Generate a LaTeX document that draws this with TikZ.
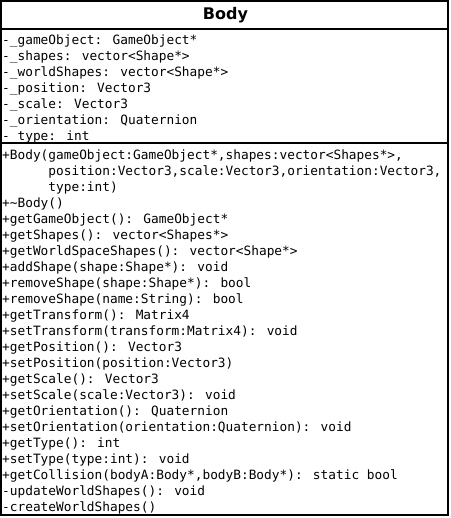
\documentclass[tikz,border=0pt]{standalone}
\usepackage{fontspec}
\usetikzlibrary{positioning,calc}
\newfontfamily\umlsans{DejaVu Sans}
\newfontfamily\umlmono{DejaVu Sans Mono}
\tikzstyle{classname}=[anchor=base,inner sep=0pt,font=\umlsans\bfseries\fontsize{16}{19}\selectfont]
\tikzstyle{members}=[anchor=base west,align=left,inner sep=0pt,font=\umlmono\fontsize{12.8}{16}\selectfont]
\tikzset{
	frame/.style={draw=black,line width=2pt},
	divider/.style={draw=black,line width=2pt}
}

\begin{document}
\begin{tikzpicture}[x=1pt,y=-1pt]
    \useasboundingbox (0,0) rectangle (450,518);
    \coordinate (nw) at (1,1);
    \coordinate (se) at (448,515);
    \draw[frame] (nw) rectangle (se);
    \draw[divider] (1,29) -- (448,29);
    \draw[divider] (1,143.5) -- (448,143.5);

    % base of a multi-line node = baseline of its last line
    \node (title) [classname] at (225.5,19.3) {Body};
    \node (attrs) [members] at (2,141) {%
        -\_gameObject: GameObject*\\
        -\_shapes: vector<Shape*>\\
        -\_worldShapes: vector<Shape*>\\
        -\_position: Vector3\\
        -\_scale: Vector3\\
        -\_orientation: Quaternion\\
        -\_type: int};
    \node (ops) [members] at (2,511) {%
        +Body(gameObject:GameObject*,shapes:vector<Shapes*>,\\
        \phantom{+Body(}position:Vector3,scale:Vector3,orientation:Vector3,\\
        \phantom{+Body(}type:int)\\
        +\textasciitilde Body()\\
        +getGameObject(): GameObject*\\
        +getShapes(): vector<Shapes*>\\
        +getWorldSpaceShapes(): vector<Shape*>\\
        +addShape(shape:Shape*): void\\
        +removeShape(shape:Shape*): bool\\
        +removeShape(name:String): bool\\
        +getTransform(): Matrix4\\
        +setTransform(transform:Matrix4): void\\
        +getPosition(): Vector3\\
        +setPosition(position:Vector3)\\
        +getScale(): Vector3\\
        +setScale(scale:Vector3): void\\
        +getOrientation(): Quaternion\\
        +setOrientation(orientation:Quaternion): void\\
        +getType(): int\\
        +setType(type:int): void\\
        +getCollision(bodyA:Body*,bodyB:Body*): static bool\\
        -updateWorldShapes(): void\\
        -createWorldShapes()};
\end{tikzpicture}
\end{document}
